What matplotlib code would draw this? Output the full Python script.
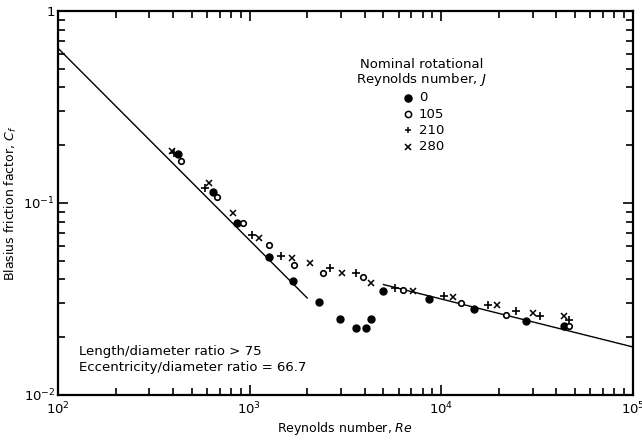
import numpy as np
import matplotlib.pyplot as plt
from matplotlib.ticker import FixedLocator, LogLocator, NullFormatter

# Reynolds number / friction factor readings, one list per rotational Reynolds number J
re_j0 = [425, 643, 863, 1268, 1681, 2315, 2970, 3585, 4055, 4310, 5000, 8690, 14860, 27800, 43550]
cf_j0 = [0.180, 0.1145, 0.0784, 0.0522, 0.0392, 0.0306, 0.0249, 0.0224, 0.0224, 0.0249, 0.0348,
         0.0315, 0.0281, 0.0243, 0.0229]

re_j105 = [437, 675, 929, 1264, 1706, 2430, 3930, 6360, 12680, 21840, 46600]
cf_j105 = [0.166, 0.108, 0.0784, 0.0604, 0.0475, 0.0434, 0.0410, 0.0352, 0.0303, 0.0261, 0.0229]

re_j210 = [405, 586, 1027, 1459, 2630, 3600, 5760, 10400, 17530, 24640, 32880, 46240]
cf_j210 = [0.183, 0.120, 0.068, 0.053, 0.0457, 0.0431, 0.0360, 0.0328, 0.0294, 0.0274, 0.0258, 0.0246]

re_j280 = [393, 615, 822, 1125, 1660, 2070, 3030, 4310, 7170, 11500, 19680, 30350, 43550]
cf_j280 = [0.187, 0.127, 0.0884, 0.0655, 0.0517, 0.0485, 0.0431, 0.0385, 0.0348, 0.0325, 0.0294,
           0.0268, 0.0258]

# reference curves (end points)
re_lam = [100, 2000]
cf_lam = [0.64, 0.032]
re_turb = [5000, 100000]
cf_turb = [0.0376, 0.0178]

plt.rcParams['font.family'] = ['DejaVu Sans']
plt.rcParams['mathtext.fontset'] = 'dejavusans'

fig = plt.figure(figsize=(6.42, 4.43), dpi=100)
ax = fig.add_axes([0.0903, 0.1084, 0.8952, 0.8668])

ax.plot(re_lam, cf_lam, color='black', lw=1.0)
ax.plot(re_turb, cf_turb, color='black', lw=1.0)

ax.plot(re_j0, cf_j0, 'o', color='black', ms=5, ls='none')
ax.plot(re_j105, cf_j105, 'o', mfc='white', mec='black', mew=1.2, ms=4, ls='none')
ax.plot(re_j210, cf_j210, '+', color='black', mew=1.2, ms=5.5, ls='none')
ax.plot(re_j280, cf_j280, 'x', color='black', mew=1.1, ms=4.5, ls='none')

ax.set_xscale('log')
ax.set_yscale('log')
ax.set_xlim(1e2, 1e5)
ax.set_ylim(1e-2, 1)

ax.xaxis.set_major_locator(FixedLocator([1e2, 1e3, 1e4, 1e5]))
ax.set_xticklabels(['$10^2$', '$10^3$', '$10^4$', '$10^5$'])
ax.yaxis.set_major_locator(FixedLocator([1e-2, 1e-1, 1]))
ax.set_yticklabels(['$10^{-2}$', '$10^{-1}$', '1'])
for axis in (ax.xaxis, ax.yaxis):
    axis.set_minor_locator(LogLocator(base=10, subs=np.arange(2, 10)))
    axis.set_minor_formatter(NullFormatter())

ax.tick_params(which='both', direction='in', top=True, right=True, labelsize=9.5, width=1.2)
ax.tick_params(which='major', length=7)
ax.tick_params(which='minor', length=5)
ax.tick_params(axis='x', which='major', pad=4)
ax.tick_params(axis='y', which='major', pad=2)
for s in ax.spines.values():
    s.set_linewidth(1.6)

ax.set_xlabel('Reynolds number, $Re$', fontsize=9, labelpad=2)
ax.set_ylabel('Blasius friction factor, $C_f$', fontsize=9, labelpad=3)

# legend built as text
ax.text(0.633, 0.838, 'Nominal rotational\nReynolds number, $J$', transform=ax.transAxes,
        ha='center', va='center', fontsize=9.5, linespacing=1.05)
legend_rows = [('o', 'black', '0'), ('o', 'white', '105'), ('+', 'black', '210'), ('x', 'black', '280')]
for i, (m, fc, lab) in enumerate(legend_rows):
    yy = 0.774 - i * 0.0425
    ax.plot([0.609], [yy], m, transform=ax.transAxes, mfc=fc, mec='black', color='black',
            ms=5 if fc == 'black' and m == 'o' else 4.5, mew=1.1, clip_on=False)
    ax.text(0.628, yy, lab, transform=ax.transAxes, ha='left', va='center', fontsize=9.5)

ax.text(0.036, 0.093, 'Length/diameter ratio > 75\nEccentricity/diameter ratio = 66.7',
        transform=ax.transAxes, ha='left', va='center', fontsize=9.5, linespacing=1.35)

fig.savefig('out.png', dpi=100)
